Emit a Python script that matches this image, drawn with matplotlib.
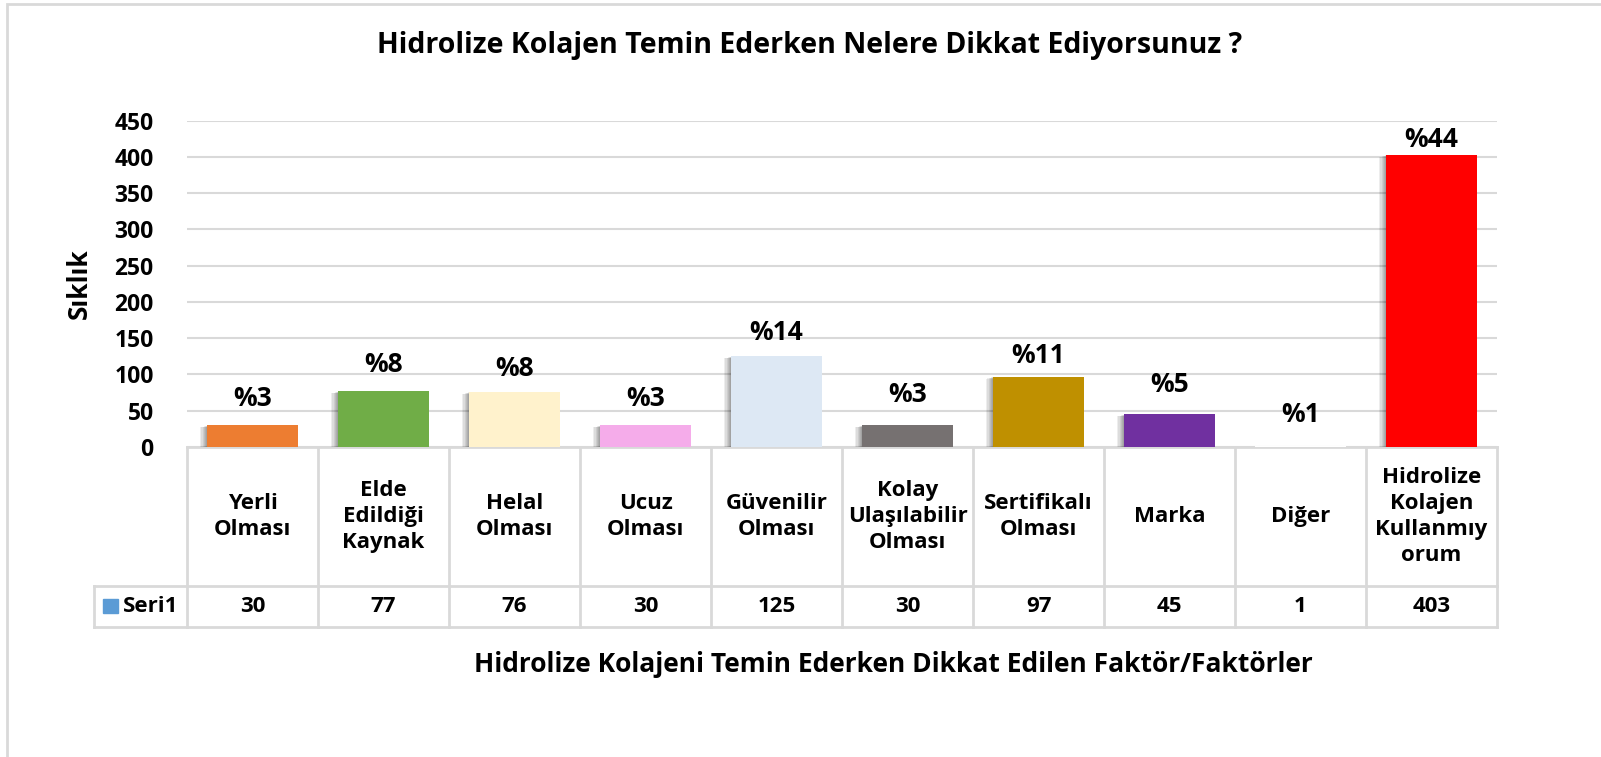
import matplotlib
matplotlib.use("Agg")
import matplotlib.pyplot as plt
import matplotlib.patches as mpatches
import matplotlib.patheffects as pe
import matplotlib.transforms as mtransforms
import numpy as np

plt.rcParams['font.family'] = ['Open Sans', 'DejaVu Sans']
plt.rcParams['font.weight'] = 'bold'

categories = ["Yerli\nOlması", "Elde\nEdildiği\nKaynak", "Helal\nOlması", "Ucuz\nOlması",
              "Güvenilir\nOlması", "Kolay\nUlaşılabilir\nOlması", "Sertifikalı\nOlması",
              "Marka", "Diğer", "Hidrolize\nKolajen\nKullanmıy\norum"]
counts = [30, 77, 76, 30, 125, 30, 97, 45, 1, 403]
pct_labels = ["%3", "%8", "%8", "%3", "%14", "%3", "%11", "%5", "%1", "%44"]
bar_colors = ["#ED7D31", "#70AD47", "#FFF2CC", "#F5ACEA", "#DDE8F4",
              "#767171", "#BF9000", "#7030A0", "#FFFFFF", "#FF0000"]
series_name = "Seri1"
title = "Hidrolize Kolajen Temin Ederken Nelere Dikkat Ediyorsunuz ?"
xlabel = "Hidrolize Kolajeni Temin Ederken Dikkat Edilen Faktör/Faktörler"
ylabel = "Sıklık"

# gap (px) between each bar top and its percent label
label_gap_px = [15, 15, 12, 15, 12, 19, 10, 18, 20, 4]

W, H = 1601, 757
fig = plt.figure(figsize=(W / 100, H / 100), dpi=100)

# plot area in pixels
left, right, top, bottom = 187, 1497, 120.7, 447
ax = fig.add_axes([left / W, 1 - bottom / H, (right - left) / W, (bottom - top) / H])

# outer chart frame
fig.patches.append(mpatches.Rectangle((7 / W, -0.1), 1.2, 1 - 4 / H + 0.1, transform=fig.transFigure,
                                      fill=False, edgecolor="#D9D9D9", linewidth=2))

x = np.arange(len(counts))
bars = ax.bar(x, counts, width=0.69, color=bar_colors, zorder=3)
# soft shadow to the left of each bar
soft = [pe.SimplePatchShadow(offset=(-k, -k * 0.3), shadow_rgbFace="#000000", alpha=0.07)
        for k in (5.0, 4.2, 3.4, 2.6, 1.8, 1.0)]
for b, v in zip(bars, counts):
    if v > 2:
        b.set_path_effects(soft + [pe.Normal()])

for xi, v, lab, g in zip(x, counts, pct_labels, label_gap_px):
    ax.annotate(lab, (xi, v), xytext=(0, g * 0.72 - 1.5), textcoords="offset points",
                ha="center", va="bottom", fontsize=19, fontweight="bold", zorder=4)

ax.set_xlim(-0.5, len(counts) - 0.5)
ax.set_ylim(0, 450)
ax.set_yticks(np.arange(0, 451, 50))
ax.yaxis.grid(True, color="#D9D9D9", linewidth=1.5, zorder=0)
ax.tick_params(axis="y", length=0, labelsize=16.5, pad=24)
ax.tick_params(axis="x", length=0, labelbottom=False)
for s in ax.spines.values():
    s.set_visible(False)
ax.set_ylabel(ylabel, fontsize=19, fontweight="bold")
ax.yaxis.set_label_coords(-(187 - 93) / (right - left), 0.5)

# data table below the axis
px = (bottom - top)  # axis height in px
def ay(py):
    return -(py - bottom) / px

trans = mtransforms.blended_transform_factory(ax.transData, ax.transAxes)
line_kw = dict(color="#D9D9D9", linewidth=2, transform=trans, clip_on=False)
y0, y1, y2 = ay(447), ay(586), ay(627)
legend_left = -0.5 - (187 - 94) / 131.0
n = len(counts)
ax.plot([-0.5, n - 0.5], [y0, y0], **line_kw)
ax.plot([legend_left, n - 0.5], [y1, y1], **line_kw)
ax.plot([legend_left, n - 0.5], [y2, y2], **line_kw)
for k in range(n + 1):
    ax.plot([k - 0.5, k - 0.5], [y0, y2], **line_kw)
ax.plot([legend_left, legend_left], [y1, y2], **line_kw)

for xi, cat, v in zip(x, categories, counts):
    ax.text(xi, (y0 + y1) / 2, cat, transform=trans, ha="center", va="center",
            fontsize=16, fontweight="bold", linespacing=1.33)
    ax.text(xi, (y1 + y2) / 2, str(v), transform=trans, ha="center", va="center",
            fontsize=16, fontweight="bold")

ax.add_patch(mpatches.Rectangle((legend_left + 0.07, ay(613)), 0.115, ay(599) - ay(613),
                                transform=trans, color="#5B9BD5", clip_on=False))
ax.text(legend_left + 0.22, (y1 + y2) / 2, series_name, transform=trans, ha="left", va="center",
        fontsize=16, fontweight="bold")

fig.text(893 / W, 1 - 664 / H, xlabel, ha="center", va="center", fontsize=19, fontweight="bold")
fig.text(810 / W, 1 - 46 / H, title, ha="center", va="center", fontsize=20.5, fontweight="bold")

fig.savefig("out.png", dpi=100)
